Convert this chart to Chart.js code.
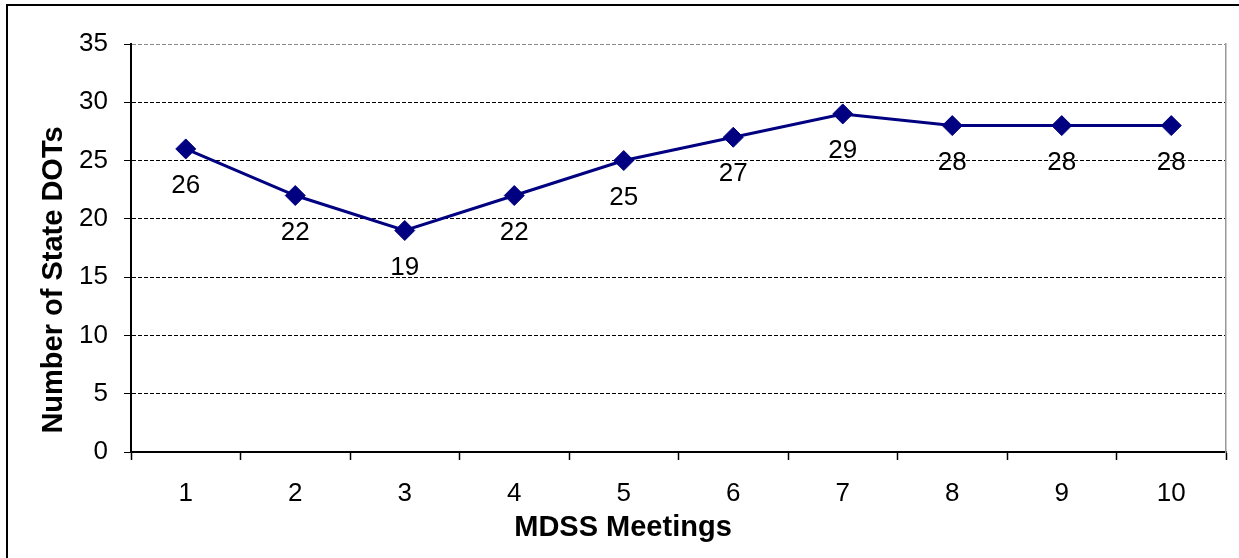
<!DOCTYPE html>
<html>
<head>
<meta charset="utf-8">
<script src="https://cdn.jsdelivr.net/npm/chart.js@4/dist/chart.umd.min.js"></script>
<style>
  html, body { margin: 0; padding: 0; background: #fff; overflow: hidden; }
  #wrap { position: relative; width: 1239px; height: 558px; }
  #frame { position: absolute; left: 6px; top: 4px; width: 1300px; height: 700px;
           border-left: 2px solid #000; border-top: 2px solid #000; pointer-events: none; }
</style>
</head>
<body>
<div id="wrap">
  <canvas id="chart" width="1239" height="558"></canvas>
  <div id="frame"></div>
</div>
<script>
// Meetings held and number of State DOTs attending each
const meetings = ['1', '2', '3', '4', '5', '6', '7', '8', '9', '10'];
const stateDots = [26, 22, 19, 22, 25, 27, 29, 28, 28, 28];
const yMin = 0;
const yMax = 35;
const yStep = 5;
const xTitle = 'MDSS Meetings';
const yTitle = 'Number of State DOTs';

const FONT = '"Liberation Sans", Arial, Helvetica, sans-serif';

// Values printed under each marker, plus the two axis titles
const annotate = {
  id: 'annotate',
  afterDatasetsDraw(chart) {
    const ctx = chart.ctx;
    const meta = chart.getDatasetMeta(0);
    ctx.save();
    ctx.fillStyle = '#000';
    ctx.font = '26px ' + FONT;
    ctx.textAlign = 'center';
    ctx.textBaseline = 'alphabetic';
    meta.data.forEach((pt, i) => {
      ctx.fillText(String(chart.data.datasets[0].data[i]), pt.x, pt.y + 44);
    });
    ctx.restore();
  },
  afterDraw(chart) {
    const ctx = chart.ctx;
    ctx.save();
    ctx.fillStyle = '#000';
    ctx.font = 'bold 29px ' + FONT;
    ctx.textAlign = 'center';
    ctx.textBaseline = 'alphabetic';
    ctx.fillText(xTitle, 623, 536);
    ctx.translate(62, 280);
    ctx.rotate(-Math.PI / 2);
    ctx.fillText(yTitle, 0, 0);
    ctx.restore();
  }
};

new Chart(document.getElementById('chart'), {
  type: 'line',
  data: {
    labels: meetings,
    datasets: [{
      data: stateDots,
      borderColor: '#000080',
      backgroundColor: '#000080',
      borderWidth: 3,
      tension: 0,
      pointStyle: 'rectRot',
      pointRadius: 10,
      pointBackgroundColor: '#000080',
      pointBorderColor: '#000080',
      pointBorderWidth: 1,
      clip: false
    }]
  },
  options: {
    responsive: false,
    animation: false,
    events: [],
    layout: { padding: { top: 44, right: 13, left: 0, bottom: 0 } },
    plugins: { legend: { display: false }, tooltip: { enabled: false } },
    scales: {
      x: {
        type: 'category',
        offset: true,
        grid: {
          offset: true,
          drawOnChartArea: false,
          drawTicks: true,
          tickLength: 8,
          tickColor: '#000',
          tickWidth: 1.5
        },
        border: { display: true, color: '#000', width: 2 },
        ticks: { color: '#000', font: { family: FONT, size: 26 }, padding: 18, maxRotation: 0 },
        afterFit(scale) { scale.height = 106; }
      },
      y: {
        min: yMin,
        max: yMax,
        ticks: {
          stepSize: yStep,
          color: '#000',
          font: { family: FONT, size: 26 },
          padding: 16
        },
        grid: {
          color: (c) => (c.tick && c.tick.value === yMax ? '#8a8a8a' : '#000'),
          lineWidth: 1,
          tickLength: 7,
          tickColor: '#000',
          tickWidth: 1
        },
        border: { display: true, color: '#000', width: 2, dash: [4, 2] },
        afterFit(scale) { scale.width = 131; }
      },
      yRight: {
        position: 'right',
        min: yMin,
        max: yMax,
        grid: { drawOnChartArea: false, drawTicks: false },
        ticks: { display: false },
        border: { display: true, color: '#999', width: 1.5 },
        afterFit(scale) { scale.width = 0; }
      }
    }
  },
  plugins: [annotate]
});
</script>
</body>
</html>
